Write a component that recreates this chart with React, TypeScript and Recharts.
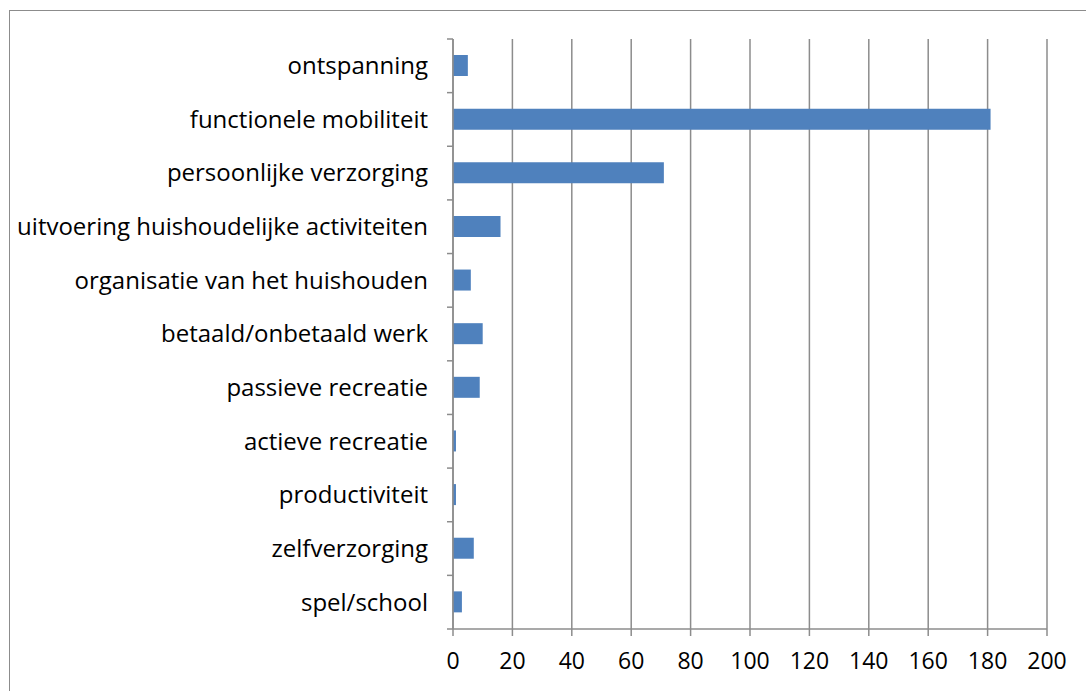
import { Bar, BarChart, CartesianGrid, XAxis, YAxis } from 'recharts'

const categories = [
  'ontspanning',
  'functionele mobiliteit',
  'persoonlijke verzorging',
  'uitvoering huishoudelijke activiteiten',
  'organisatie van het huishouden',
  'betaald/onbetaald werk',
  'passieve recreatie',
  'actieve recreatie',
  'productiviteit',
  'zelfverzorging',
  'spel/school',
]

const counts = [5, 181, 71, 16, 6, 10, 9, 1, 1, 7, 3]

const xTicks = [0, 20, 40, 60, 80, 100, 120, 140, 160, 180, 200]

const data = categories.map((name, i) => ({ name, value: counts[i] }))

const WIDTH = 1086
const HEIGHT = 691
const MARGIN = { top: 39, right: 39, left: 0, bottom: 22 }
const X_AXIS_HEIGHT = 40
const AXIS_COLOR = '#8c8c8c'
const FONT = '"Open Sans", sans-serif'

const plotHeight = HEIGHT - MARGIN.top - MARGIN.bottom - X_AXIS_HEIGHT
const band = plotHeight / categories.length

// tick marks sit on band boundaries, like Excel
function CategoryTick(props: any) {
  const { x, y, payload, index } = props
  const axisX = x + 25
  const last = index === categories.length - 1
  return (
    <g>
      <line x1={axisX - 6} x2={axisX} y1={y - band / 2} y2={y - band / 2} stroke={AXIS_COLOR} strokeWidth={1.5} />
      {last && (
        <line x1={axisX - 6} x2={axisX} y1={y + band / 2} y2={y + band / 2} stroke={AXIS_COLOR} strokeWidth={1.5} />
      )}
      <text x={x} y={y} dy="0.35em" textAnchor="end" fill="#000" fontSize={24} fontFamily={FONT}>
        {payload.value}
      </text>
    </g>
  )
}

export default function App() {
  return (
    <div style={{ position: 'absolute', left: 0, top: 0, width: WIDTH, height: HEIGHT, background: '#fff' }}>
      <div
        style={{
          position: 'absolute',
          left: 9,
          top: 10,
          right: -2,
          bottom: -2,
          borderLeft: '1.5px solid #8c8c8c',
          borderTop: '1.5px solid #8c8c8c',
        }}
      />
      <BarChart
        width={WIDTH}
        height={HEIGHT}
        data={data}
        layout="vertical"
        margin={MARGIN}
        style={{ position: 'absolute', left: 0, top: 0 }}
      >
        <CartesianGrid horizontal={false} stroke={AXIS_COLOR} strokeWidth={1.5} />
        <XAxis
          type="number"
          domain={[0, 200]}
          ticks={xTicks}
          interval={0}
          height={X_AXIS_HEIGHT}
          stroke={AXIS_COLOR}
          strokeWidth={1.5}
          tickSize={7}
          tickMargin={17}
          tick={{ fill: '#000', fontSize: 23, fontFamily: FONT }}
        />
        <YAxis
          type="category"
          dataKey="name"
          width={453}
          interval={0}
          stroke={AXIS_COLOR}
          strokeWidth={1.5}
          tickLine={false}
          tickSize={0}
          tickMargin={25}
          tick={<CategoryTick />}
        />
        <Bar dataKey="value" fill="#4f81bd" barSize={21} isAnimationActive={false} />
      </BarChart>
    </div>
  )
}
